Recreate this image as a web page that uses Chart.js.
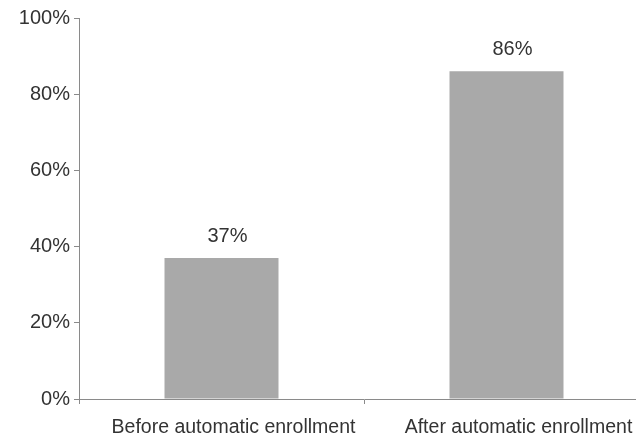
<!DOCTYPE html>
<html>
<head>
<meta charset="utf-8">
<script src="https://cdn.jsdelivr.net/npm/chart.js@4"></script>
<style>
  html, body { margin: 0; padding: 0; background: #fff; overflow: hidden; }
  #wrap { position: absolute; left: 0; top: 0; width: 649px; height: 438px; }
</style>
</head>
<body>
<div id="wrap"><canvas id="c" width="649" height="438"></canvas></div>
<script>
// Participation rates before and after automatic enrollment
const categories = ['Before automatic enrollment', 'After automatic enrollment'];
const participation = [37, 86];
const yTicks = [0, 20, 40, 60, 80, 100];

const textColor = '#333333';
const axisColor = '#8a8a8a';
const font = 'Liberation Sans, Arial, sans-serif';

// Draws the percentage above each bar
const valueLabels = {
  id: 'valueLabels',
  afterDatasetsDraw(chart) {
    const ctx = chart.ctx;
    const meta = chart.getDatasetMeta(0);
    ctx.save();
    ctx.fillStyle = textColor;
    ctx.font = '20px ' + font;
    ctx.textAlign = 'center';
    ctx.textBaseline = 'alphabetic';
    meta.data.forEach((bar, i) => {
      ctx.fillText(participation[i] + '%', bar.x + 6, bar.y - 16);
    });
    ctx.restore();
  }
};

new Chart(document.getElementById('c'), {
  type: 'bar',
  data: {
    labels: categories,
    datasets: [{
      data: participation,
      backgroundColor: '#a9a9a9',
      borderWidth: 0,
      barPercentage: 0.4,
      categoryPercentage: 1.0
    }]
  },
  options: {
    responsive: false,
    animation: false,
    layout: { padding: { top: 18, right: 0, left: 0, bottom: 0 } },
    plugins: { legend: { display: false }, tooltip: { enabled: false } },
    scales: {
      x: {
        afterFit(scale) { scale.height = 39; },
        border: { display: true, color: axisColor, width: 1 },
        grid: {
          display: true,
          offset: true,
          drawOnChartArea: false,
          drawTicks: true,
          tickLength: 5,
          color: axisColor
        },
        ticks: {
          color: textColor,
          font: { size: 19.5, family: font },
          padding: 12,
          labelOffset: 12,
          maxRotation: 0,
          autoSkip: false
        }
      },
      y: {
        min: 0,
        max: 100,
        afterFit(scale) { scale.width = 79; },
        afterBuildTicks(scale) { scale.ticks = yTicks.map(v => ({ value: v })); },
        border: { display: true, color: axisColor, width: 1 },
        grid: {
          display: true,
          drawOnChartArea: false,
          drawTicks: true,
          tickLength: 5,
          color: axisColor
        },
        ticks: {
          color: textColor,
          font: { size: 20, family: font },
          padding: 4,
          callback: v => v + '%'
        }
      }
    }
  },
  plugins: [valueLabels]
});
</script>
</body>
</html>
